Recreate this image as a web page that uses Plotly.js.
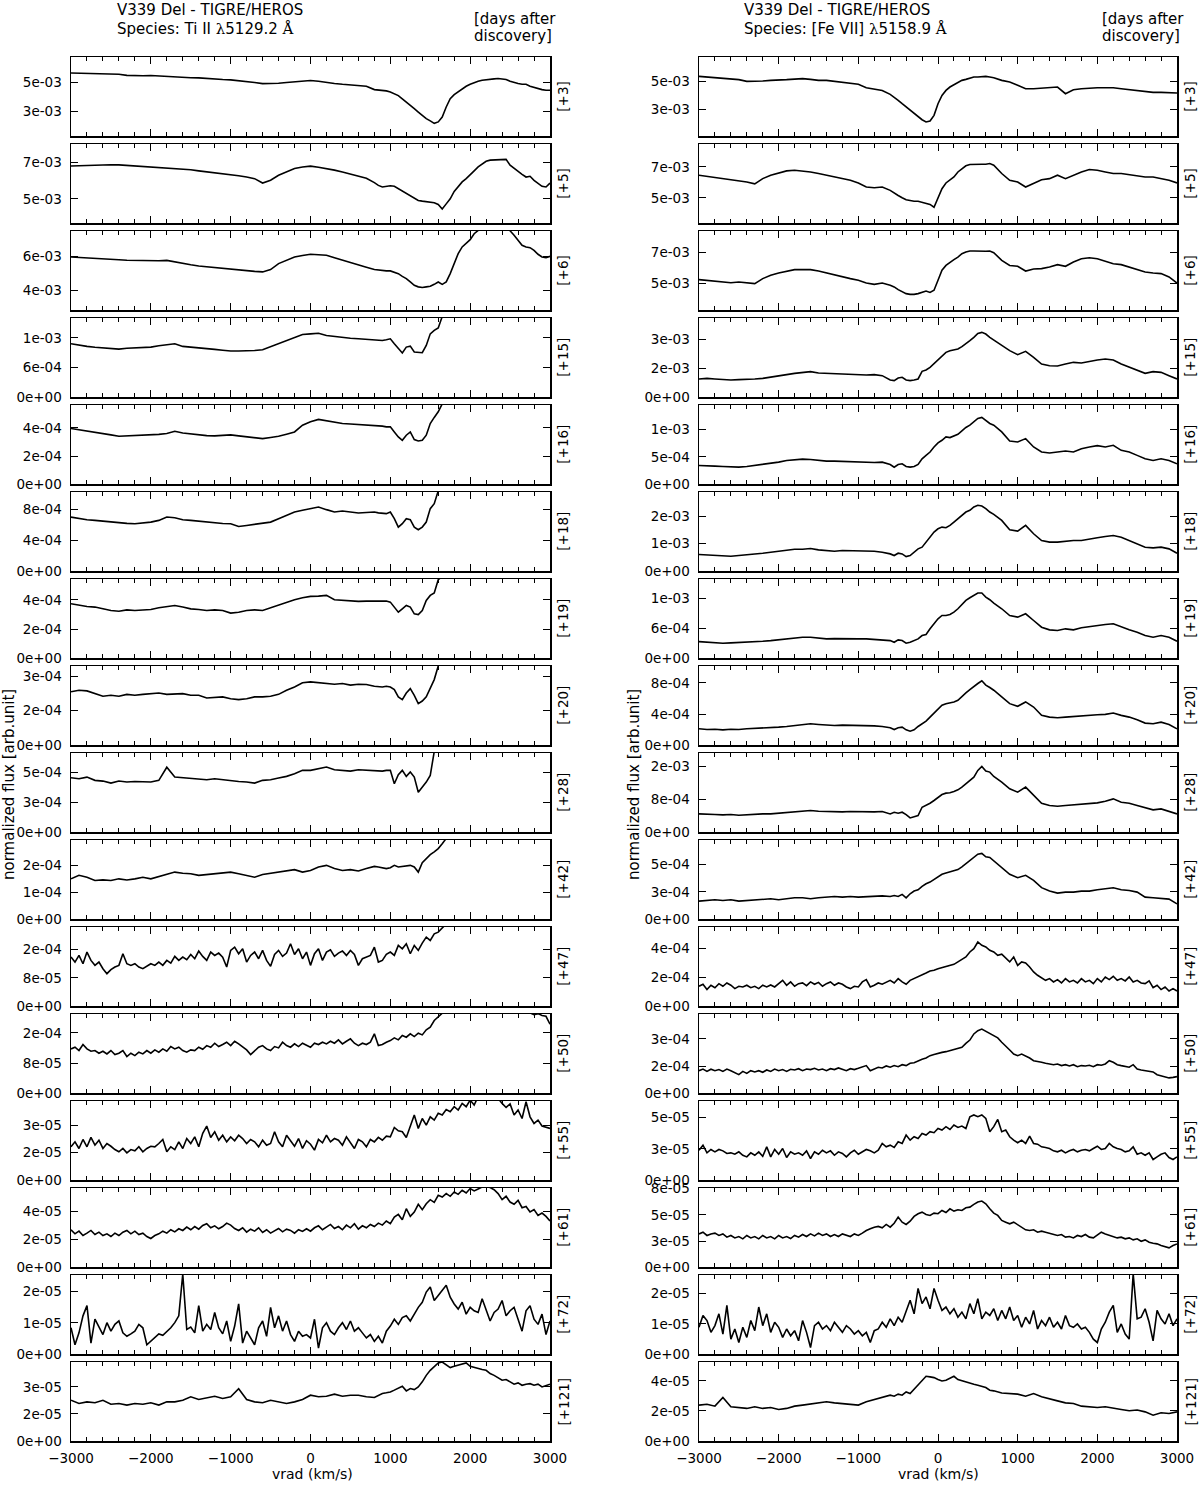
<!DOCTYPE html>
<html>
<head>
<meta charset="utf-8">
<script src="https://cdn.plot.ly/plotly-3.0.1.min.js"></script>
<style>
  body { margin: 0; background: #fff; }
  #chart { width: 1200px; height: 1485px; }
</style>
</head>
<body>
<div id="chart"></div>
<script>
// --- velocity grids (km/s) ---
const vradTi = [-3000,-2900,-2800,-2700,-2600,-2500,-2400,-2300,-2200,-2100,
  -2000,-1900,-1800,-1700,-1600,-1500,-1400,-1300,-1200,-1100,
  -1000,-900,-800,-700,-600,-500,-400,-300,-200,-100,
  0,100,200,300,400,500,600,700,800,
  850,900,950,1000,1050,1100,1150,1200,1250,1300,
  1350,1400,1450,1500,1550,1600,1650,1700,1750,1800,
  1850,1900,1950,2000,2050,2100,2150,2200,2250,2300,
  2350,2400,2450,2500,2550,2600,2650,2700,2750,2800,
  2850,2900,2950,3000];

const vradFe = [-3000,-2900,-2800,-2700,-2600,-2500,-2400,-2300,-2200,-2100,
  -2000,-1900,-1800,-1700,-1600,-1500,-1400,-1300,-1200,-1100,
  -1000,-900,-800,-700,-600,
  -550,-500,-450,-400,-350,-300,-250,-200,-150,-100,
  -50,0,50,100,150,200,250,300,350,400,
  450,500,550,600,650,700,
  800,900,1000,1100,1200,1300,1400,1500,1600,1700,
  1800,1900,2000,2100,2200,2300,2400,2500,2600,2700,
  2800,2900,3000];

const vradNoisy = [-3000,-2950,-2900,-2850,-2800,-2750,-2700,-2650,-2600,-2550,
  -2500,-2450,-2400,-2350,-2300,-2250,-2200,-2150,-2100,-2050,
  -2000,-1950,-1900,-1850,-1800,-1750,-1700,-1650,-1600,-1550,
  -1500,-1450,-1400,-1350,-1300,-1250,-1200,-1150,-1100,-1050,
  -1000,-950,-900,-850,-800,-750,-700,-650,-600,-550,
  -500,-450,-400,-350,-300,-250,-200,-150,-100,-50,
  0,50,100,150,200,250,300,350,400,450,
  500,550,600,650,700,750,800,850,900,950,
  1000,1050,1100,1150,1200,1250,1300,1350,1400,1450,
  1500,1550,1600,1650,1700,1750,1800,1850,1900,1950,
  2000,2050,2100,2150,2200,2250,2300,2350,2400,2450,
  2500,2550,2600,2650,2700,2750,2800,2850,2900,2950,
  3000];

const daysAfter = ['+3','+5','+6','+15','+16','+18','+19','+20','+28','+42','+47','+50','+55','+61','+72','+121'];

// --- Ti II 5129.2 normalized flux (unit in comment) ---
const tiD3 = [5.67,5.65,5.63,5.62,5.60,5.59,5.58,5.50,5.47,5.48,
  5.49,5.45,5.42,5.38,5.35,5.34,5.33,5.28,5.23,5.21,
  5.19,5.14,5.09,5.00,4.93,4.93,4.95,5.01,5.07,5.11,
  5.14,5.09,5.00,4.94,4.88,4.85,4.81,4.74,4.51,
  4.49,4.47,4.42,4.35,4.23,4.09,3.86,3.65,3.42,3.19,
  2.95,2.72,2.49,2.33,2.16,2.26,2.60,3.30,3.88,4.16,
  4.35,4.58,4.74,4.88,5.00,5.09,5.16,5.21,5.23,5.26,
  5.28,5.26,5.21,5.09,5.00,4.93,4.88,4.88,4.74,4.65,
  4.56,4.51,4.47,4.47]; // 1e-3
const tiD5 = [6.81,6.83,6.85,6.87,6.89,6.88,6.87,6.84,6.81,6.79,
  6.76,6.73,6.70,6.68,6.65,6.60,6.54,6.49,6.44,6.39,
  6.33,6.27,6.20,6.11,5.87,6.02,6.30,6.50,6.67,6.75,
  6.80,6.74,6.67,6.58,6.48,6.37,6.26,6.13,5.89,
  5.74,5.65,5.69,5.72,5.69,5.56,5.43,5.28,5.13,5.00,
  4.91,4.87,4.83,4.81,4.78,4.69,4.44,4.72,5.00,5.41,
  5.69,5.93,6.11,6.30,6.54,6.76,6.94,7.07,7.13,7.13,
  7.15,7.15,7.17,6.85,6.67,6.48,6.35,6.20,6.24,6.02,
  5.83,5.69,5.65,5.87]; // 1e-3
const tiD6 = [5.96,5.94,5.92,5.89,5.86,5.83,5.80,5.77,5.76,5.75,
  5.73,5.74,5.76,5.66,5.57,5.50,5.43,5.38,5.33,5.28,
  5.22,5.18,5.14,5.11,5.08,5.22,5.57,5.77,5.96,6.05,
  6.12,6.09,6.06,5.91,5.76,5.61,5.47,5.35,5.22,
  5.18,5.14,5.14,5.14,5.08,4.98,4.82,4.69,4.49,4.29,
  4.20,4.16,4.20,4.24,4.35,4.49,4.35,4.49,4.98,5.57,
  6.16,6.55,6.78,6.98,7.33,7.53,7.8,8.0,8.1,8.2,
  8.2,8.1,7.9,7.5,7.24,6.94,6.65,6.55,6.51,6.35,
  6.12,5.96,5.92,6.00]; // 1e-3
const tiD15 = [10.8,10.5,10.27,10.1,9.93,9.85,9.73,9.9,10.0,10.05,
  10.13,10.4,10.67,10.8,10.27,10.15,10.0,9.85,9.67,9.5,
  9.33,9.33,9.33,9.45,9.6,10.2,10.8,11.4,12.0,12.67,
  12.8,12.93,12.47,12.25,12.0,11.9,11.8,11.7,11.6,
  11.6,11.47,11.6,11.8,10.8,9.8,8.93,10.13,10.33,9.13,
  9.0,9.0,10.47,12.8,13.5,14.0,16.3]; // 1e-4
const tiD16 = [3.95,3.87,3.79,3.70,3.60,3.50,3.40,3.42,3.43,3.46,
  3.48,3.54,3.60,3.76,3.64,3.56,3.48,3.45,3.43,3.47,
  3.50,3.43,3.36,3.30,3.24,3.32,3.40,3.55,3.71,4.19,
  4.43,4.60,4.50,4.40,4.31,4.27,4.24,4.19,4.14,
  4.12,4.12,4.07,4.07,3.71,3.36,3.12,3.48,3.71,3.17,
  3.07,3.12,3.48,4.31,4.74,5.14,5.7]; // 1e-4
const tiD18 = [7.01,6.80,6.67,6.58,6.49,6.36,6.23,6.20,6.15,6.25,
  6.36,6.58,7.01,6.93,6.67,6.58,6.49,6.36,6.23,6.18,
  6.15,5.80,5.93,6.05,6.15,6.36,6.80,7.20,7.66,7.90,
  8.10,8.31,7.97,7.66,7.79,7.65,7.53,7.60,7.66,
  7.55,7.50,7.45,7.66,6.80,5.71,6.15,6.80,6.67,5.71,
  5.37,5.71,6.36,8.10,8.74,10.4]; // 1e-4
const tiD19 = [3.73,3.61,3.54,3.50,3.38,3.27,3.22,3.31,3.27,3.31,
  3.34,3.45,3.54,3.61,3.50,3.38,3.34,3.27,3.31,3.27,
  3.09,3.15,3.27,3.31,3.27,3.45,3.68,3.82,4.00,4.14,
  4.23,4.25,4.30,4.00,3.95,3.91,3.89,3.91,3.91,
  3.95,3.95,3.91,3.84,3.50,3.15,3.38,3.61,3.50,3.04,
  2.99,3.27,3.95,4.30,4.46,5.37,5.6]; // 1e-4
const tiD20 = [2.32,2.39,2.36,2.24,2.13,2.17,2.13,2.21,2.17,2.21,
  2.24,2.27,2.21,2.21,2.24,2.17,2.17,2.05,2.07,2.10,
  2.02,1.98,2.02,2.10,2.10,2.13,2.21,2.39,2.53,2.71,
  2.75,2.71,2.68,2.65,2.68,2.61,2.65,2.64,2.56,
  2.53,2.53,2.56,2.53,2.42,2.10,1.98,2.27,2.46,2.17,
  1.81,1.92,2.10,2.46,2.85,3.44,3.7]; // 1e-4
const tiD28 = [4.53,4.44,4.58,4.31,4.25,4.08,4.25,4.17,4.22,4.22,
  4.17,4.31,5.4,4.58,4.53,4.50,4.44,4.36,4.44,4.36,
  4.25,4.22,4.17,4.08,4.31,4.36,4.50,4.64,4.86,5.14,
  5.14,5.28,5.42,5.19,5.14,5.08,5.19,5.14,5.08,
  5.08,5.08,5.14,5.14,4.03,4.78,5.14,4.64,5.0,4.58,
  3.33,3.75,4.17,4.72,6.7]; // 1e-4
const tiD42 = [1.50,1.63,1.56,1.44,1.46,1.44,1.50,1.46,1.50,1.56,
  1.50,1.59,1.66,1.75,1.71,1.69,1.63,1.66,1.69,1.71,
  1.75,1.69,1.63,1.56,1.66,1.71,1.75,1.81,1.84,1.75,
  1.81,1.94,2.00,1.88,1.81,1.84,1.79,1.88,1.96,
  1.94,1.91,1.88,1.91,2.00,1.94,1.96,1.98,2.00,1.94,
  1.75,2.10,2.25,2.40,2.50,2.62,2.80,3.0]; // 1e-4
const tiD47 = [13.84,12.44,14.31,11.97,15.25,12.91,11.51,12.44,10.57,9.17,
  10.29,11.04,11.51,14.78,11.97,11.51,11.97,11.04,10.57,11.23,
  11.97,11.51,12.44,11.51,12.91,12.16,14.03,12.91,13.84,13.10,
  14.59,13.38,15.53,14.03,12.91,15.25,14.31,14.97,13.84,11.04,
  15.72,16.65,14.78,16.18,12.44,14.31,15.25,13.38,15.72,12.91,
  11.23,14.59,15.72,14.03,14.97,17.59,14.59,16.18,13.38,15.25,
  11.51,14.78,16.18,12.91,15.25,15.90,14.03,14.97,15.53,14.31,
  15.72,14.59,11.51,13.38,13.84,14.31,16.65,12.44,12.91,14.59,
  15.25,14.31,17.12,16.18,17.59,14.78,17.12,15.72,17.77,19.46,
  18.52,20.39,20.86,22.26,23.2]; // 1e-5
const tiD50 = [11.76,12.20,11.32,12.91,11.76,11.14,11.32,10.61,11.14,10.43,
  11.32,10.26,10.61,11.32,9.73,10.61,9.99,10.88,10.43,11.32,
  10.61,11.49,10.88,11.76,11.14,12.38,11.76,12.20,11.32,10.88,
  11.49,11.32,12.20,11.67,12.64,12.20,13.26,12.38,12.91,13.53,
  12.64,13.79,13.09,12.20,11.49,10.26,11.32,12.20,12.64,11.76,
  11.32,12.38,12.02,13.53,12.64,12.20,13.09,12.38,13.26,12.64,
  12.20,13.26,12.91,13.53,13.09,13.79,13.26,14.15,13.09,13.79,
  14.41,13.26,12.64,13.26,12.91,13.53,15.74,12.64,12.91,13.53,
  13.97,14.68,14.15,15.30,14.85,15.74,15.03,15.92,15.47,16.80,
  17.51,19.27,20.34,21.22,22.0,22.5,23.0,23.5,24.0,24.0,
  24.5,24.5,25.0,25.0,25.0,25.0,24.5,24.5,24.0,24.0,
  23.5,23.0,22.5,22.0,21.5,21.3,20.8,21.1,20.6,20.4,
  18.3]; // 1e-5
const tiD55 = [1.82,2.09,1.73,2.22,1.82,2.33,1.91,2.18,1.73,2.00,
  1.85,1.67,1.55,1.73,1.49,1.67,1.60,1.82,1.55,1.73,
  1.85,1.82,2.00,2.22,1.55,1.82,1.67,2.09,1.73,2.27,
  2.00,2.36,1.82,2.55,2.95,2.33,2.64,2.18,2.45,2.09,
  2.36,2.15,2.45,2.27,2.00,2.22,2.09,1.82,2.18,1.91,
  2.00,2.64,2.09,1.82,2.45,2.18,1.85,2.27,1.73,2.15,
  1.96,1.64,2.22,2.04,2.45,2.09,2.27,2.18,1.91,2.36,
  2.04,1.73,2.22,2.09,1.82,2.22,2.09,2.33,2.18,2.40,
  2.36,2.87,2.69,2.64,2.33,2.91,3.55,2.82,3.36,3.00,
  3.45,3.27,3.64,3.55,3.85,3.73,4.00,3.82,4.18,4.00,
  4.36,4.09,4.55,4.73,4.64,4.55,4.36,4.45,4.18,3.96,
  4.15,3.55,3.82,3.36,4.27,3.45,3.09,3.27,2.95,2.87,
  2.82]; // 1e-5
const tiD61 = [2.67,2.38,2.57,2.26,2.43,2.62,2.33,2.50,2.26,2.38,
  2.19,2.43,2.26,2.50,2.62,2.38,2.57,2.33,2.43,2.19,
  2.05,2.26,2.38,2.57,2.43,2.67,2.52,2.74,2.62,2.86,
  2.67,2.90,2.71,2.98,3.10,2.81,2.95,2.74,2.90,3.14,
  3.00,2.76,2.62,2.81,2.50,2.71,2.57,2.81,2.48,2.67,
  2.43,2.62,2.76,2.52,2.71,2.62,2.43,2.67,2.55,2.74,
  2.57,2.81,2.95,2.67,2.86,3.05,2.76,2.90,2.67,3.00,
  2.81,3.10,2.71,2.95,2.81,3.05,2.90,3.14,3.00,3.29,
  3.10,3.57,3.76,3.38,4.17,3.62,3.93,4.48,4.10,4.52,
  4.81,4.62,5.12,5.00,5.24,5.05,5.36,5.19,5.48,5.29,
  5.60,5.43,5.57,5.71,5.76,5.67,5.52,5.24,4.81,5.05,
  4.64,4.48,4.76,4.24,4.33,3.93,4.10,3.69,3.86,3.62,
  3.29]; // 1e-5
const tiD72 = [8.43,3.03,6.81,12.22,15.46,3.57,11.14,8.43,6.27,10.05,
  7.35,9.51,10.59,6.81,5.73,6.49,7.35,9.51,8.43,3.03,
  4.11,5.19,6.49,6.05,7.14,8.43,10.05,12.22,25.5,7.89,
  8.65,6.81,15.46,7.35,9.51,7.89,13.30,8.43,6.49,10.59,
  4.11,8.97,16.0,3.57,7.35,5.19,3.03,8.43,10.59,5.73,
  14.92,8.43,12.22,7.35,10.59,6.27,4.11,7.35,5.73,6.27,
  5.19,11.14,1.95,8.43,10.05,7.35,6.27,8.43,10.05,7.89,
  10.59,7.35,8.43,6.81,5.19,6.27,4.11,5.73,3.57,7.35,
  8.97,11.14,9.51,11.68,12.22,10.59,12.76,14.92,16.54,19.78,
  21.41,17.08,18.70,20.32,21.95,18.16,16.0,14.38,16.54,12.76,
  14.92,13.84,13.30,17.62,14.38,10.59,13.30,14.38,17.08,12.22,
  13.84,14.92,11.14,7.35,13.84,15.46,11.14,9.51,12.76,6.27,
  10.59]; // 1e-6
const tiD121 = [2.26,2.08,2.17,2.12,2.26,2.04,2.08,1.99,2.08,2.04,
  2.12,1.99,2.17,2.17,2.26,2.45,2.30,2.41,2.48,2.36,
  2.45,2.90,2.30,2.17,2.12,2.26,2.17,2.08,2.17,2.30,
  2.54,2.45,2.48,2.60,2.48,2.54,2.54,2.45,2.41,
  2.54,2.63,2.67,2.72,2.82,2.91,3.04,2.78,2.91,2.85,
  3.00,3.28,3.64,3.92,4.14,4.33,4.38,4.20,4.07,4.14,
  4.20,4.25,4.33,4.14,4.07,4.01,3.96,3.92,3.74,3.64,
  3.52,3.37,3.41,3.28,3.15,3.22,3.09,3.15,3.18,3.09,
  3.15,3.00,3.09,3.15]; // 1e-5

// --- [Fe VII] 5158.9 normalized flux (unit in comment) ---
const feD3 = [5.35,5.31,5.26,5.24,5.19,5.12,5.00,5.00,5.02,5.07,
  5.07,5.12,5.16,5.19,5.14,5.07,5.07,5.00,4.95,4.91,
  4.79,4.55,4.48,4.36,4.08,
  3.89,3.66,3.42,3.19,2.95,2.72,2.48,2.29,2.13,2.20,
  2.60,3.42,4.01,4.36,4.60,4.76,4.95,5.07,5.14,5.24,
  5.31,5.31,5.35,5.35,5.31,5.26,
  5.07,4.95,4.72,4.48,4.48,4.53,4.53,4.60,4.13,4.41,
  4.48,4.53,4.55,4.55,4.55,4.48,4.41,4.32,4.27,4.22,
  4.22,4.18,4.18]; // 1e-3
const feD5 = [6.46,6.39,6.30,6.24,6.17,6.13,6.02,5.90,6.24,6.46,
  6.61,6.74,6.78,6.74,6.67,6.57,6.46,6.35,6.24,6.13,
  5.96,5.70,5.65,5.70,5.48,
  5.30,5.15,5.00,4.87,4.83,4.78,4.78,4.72,4.65,4.57,
  4.39,5.04,5.59,5.96,6.13,6.35,6.67,6.89,7.07,7.15,
  7.17,7.15,7.17,7.17,7.22,7.11,
  6.57,6.13,6.02,5.70,5.96,6.17,6.24,6.46,6.24,6.46,
  6.67,6.83,6.78,6.67,6.57,6.57,6.50,6.46,6.35,6.35,
  6.24,6.13,5.96]; // 1e-3
const feD6 = [5.22,5.18,5.11,5.07,5.02,5.07,5.02,4.96,5.29,5.51,
  5.66,5.79,5.88,5.88,5.88,5.79,5.66,5.51,5.40,5.29,
  5.18,5.00,4.91,5.00,4.85,
  4.74,4.56,4.41,4.30,4.25,4.25,4.30,4.38,4.47,4.38,
  4.52,5.18,5.84,6.16,6.38,6.54,6.71,6.93,7.04,7.11,
  7.11,7.09,7.07,7.09,7.11,7.00,
  6.49,6.16,6.10,5.79,5.92,5.95,6.05,6.21,6.10,6.38,
  6.60,6.67,6.60,6.45,6.27,6.21,6.05,5.84,5.73,5.66,
  5.62,5.40,5.00]; // 1e-3
const feD15 = [0.954,0.988,0.954,0.919,0.902,0.919,0.919,0.954,0.988,1.040,
  1.110,1.179,1.248,1.300,1.335,1.266,1.248,1.214,1.214,1.196,
  1.179,1.162,1.179,1.127,0.902,
  0.867,1.006,1.040,0.902,0.867,0.902,0.954,1.353,1.422,1.561,
  1.769,1.942,2.168,2.341,2.428,2.480,2.514,2.636,2.774,2.948,
  3.121,3.329,3.381,3.295,3.121,2.982,
  2.722,2.428,2.220,2.393,2.081,1.734,1.647,1.630,1.734,1.821,
  1.786,1.873,1.942,1.994,1.942,1.734,1.561,1.422,1.248,1.335,
  1.300,1.127,0.954]; // 1e-3
const feD16 = [3.44,3.44,3.31,3.25,3.13,3.13,3.25,3.44,3.62,3.87,
  4.05,4.36,4.48,4.60,4.54,4.36,4.23,4.23,4.17,4.05,
  4.05,4.05,3.99,4.05,3.62,
  3.13,3.62,3.74,3.25,3.13,3.25,3.62,4.66,5.28,5.89,
  6.81,7.55,8.04,8.65,8.53,8.77,9.14,9.75,10.37,10.80,
  11.41,12.02,12.21,11.72,11.10,10.80,
  9.57,7.91,7.73,8.34,6.81,5.89,5.71,5.89,6.07,5.89,
  6.50,6.81,7.06,6.81,7.12,6.20,5.89,5.28,4.66,4.36,
  4.66,4.36,3.74]; // 1e-4
const feD18 = [0.606,0.594,0.570,0.558,0.545,0.570,0.594,0.606,0.655,0.691,
  0.727,0.776,0.800,0.800,0.824,0.776,0.752,0.727,0.752,0.752,
  0.727,0.727,0.727,0.691,0.630,
  0.570,0.655,0.630,0.533,0.570,0.691,0.812,0.873,1.055,1.236,
  1.418,1.539,1.600,1.576,1.661,1.782,1.903,2.024,2.145,2.206,
  2.327,2.388,2.364,2.267,2.145,2.061,
  1.842,1.503,1.455,1.661,1.358,1.115,1.055,1.055,1.091,1.115,
  1.115,1.176,1.212,1.261,1.297,1.236,1.115,0.994,0.873,0.848,
  0.873,0.812,0.655]; // 1e-3
const feD19 = [3.33,3.20,3.07,3.00,3.07,3.13,3.20,3.27,3.40,3.53,
  3.73,3.87,4.07,4.20,4.20,4.07,3.87,3.93,3.87,3.87,
  3.87,3.87,3.80,3.73,3.53,
  3.20,3.67,3.53,3.00,3.20,3.53,3.87,4.53,4.73,5.87,
  6.87,7.87,8.53,8.53,8.73,9.20,9.87,10.73,11.53,12.07,
  12.53,13.0,13.0,12.2,11.67,11.0,
  9.87,8.53,8.2,8.87,7.53,6.2,5.67,5.53,5.87,5.67,
  6.07,6.33,6.53,6.73,6.87,6.2,5.67,5.2,4.53,4.2,
  4.53,4.2,3.40]; // 1e-4
const feD20 = [2.11,2.02,2.06,1.98,2.06,2.02,2.11,2.15,2.19,2.24,
  2.32,2.41,2.54,2.67,2.75,2.67,2.58,2.54,2.58,2.58,
  2.54,2.54,2.49,2.41,2.24,
  2.02,2.24,2.32,1.98,1.81,1.98,2.41,2.75,3.10,3.61,
  4.13,4.69,5.12,5.33,5.42,5.55,5.76,6.28,6.71,7.14,
  7.57,7.91,8.26,7.70,7.40,7.05,
  6.19,5.33,4.99,5.55,4.90,3.83,3.61,3.53,3.61,3.70,
  3.78,3.83,3.91,3.96,4.13,3.83,3.61,3.27,2.84,2.75,
  2.96,2.67,2.11]; // 1e-4
const feD28 = [4.49,4.33,4.33,4.24,4.33,4.16,4.33,4.41,4.49,4.49,
  4.65,4.82,4.98,5.14,5.31,5.14,5.06,4.98,4.98,5.06,
  4.98,4.98,4.98,5.06,4.49,
  4.90,4.65,4.90,4.33,3.51,3.84,4.08,6.12,6.53,7.10,
  7.76,8.57,9.22,9.55,9.63,9.96,10.37,11.02,11.84,12.65,
  13.47,15.10,16.08,14.94,14.69,13.63,
  12.24,10.61,9.80,11.02,8.98,7.10,6.53,6.37,6.53,6.69,
  6.78,6.94,7.18,7.59,8.16,7.34,7.10,6.53,5.96,5.47,
  5.71,5.14,4.49]; // 1e-4
const feD42 = [1.65,1.71,1.77,1.71,1.77,1.65,1.71,1.77,1.83,1.86,
  1.77,1.86,1.95,1.95,1.86,1.95,2.01,2.07,2.01,2.07,
  2.01,2.07,2.10,2.13,2.07,
  2.16,2.07,2.26,1.95,2.32,2.56,2.68,2.99,3.23,3.38,
  3.60,3.84,4.09,4.21,4.30,4.45,4.51,4.76,5.06,5.37,
  5.67,5.91,5.98,5.67,5.61,5.30,
  4.76,4.09,3.78,3.99,3.54,2.87,2.56,2.38,2.47,2.47,
  2.56,2.56,2.68,2.77,2.87,2.68,2.62,2.47,2.01,1.95,
  1.86,1.83,1.40]; // 1e-4
const feD47 = [1.39,1.53,1.16,1.46,1.29,1.57,1.39,1.62,1.46,1.23,
  1.39,1.34,1.46,1.29,1.39,1.23,1.46,1.34,1.48,1.34,
  1.57,1.80,1.46,1.69,1.39,1.57,1.62,1.43,1.69,1.53,
  1.66,1.39,1.57,1.69,1.46,1.62,1.53,1.34,1.23,1.39,
  1.34,1.69,1.85,1.34,1.46,1.62,1.53,1.69,1.80,1.62,
  1.92,1.69,1.53,1.80,1.92,2.08,2.15,2.31,2.45,2.50,
  2.61,2.68,2.73,2.84,2.91,3.08,3.24,3.42,3.77,4.00,
  4.46,4.23,4.12,3.88,3.77,3.54,3.61,3.31,3.08,3.42,
  2.84,3.08,3.01,2.73,2.38,2.15,1.99,1.80,1.92,1.69,
  1.85,1.62,1.92,1.69,1.80,1.62,1.92,1.69,1.80,1.57,
  1.92,1.69,2.03,1.85,2.08,1.80,1.92,1.76,2.03,1.69,
  1.80,1.62,1.57,1.76,1.29,1.46,1.16,1.34,1.06,1.23,
  1.06]; // 1e-4
const feD50 = [1.25,1.34,1.21,1.33,1.25,1.31,1.21,1.34,1.25,1.16,
  1.03,1.21,1.10,1.25,1.18,1.25,1.16,1.29,1.21,1.34,
  1.25,1.31,1.21,1.33,1.29,1.36,1.25,1.34,1.31,1.38,
  1.29,1.34,1.25,1.36,1.31,1.40,1.33,1.25,1.36,1.31,
  1.38,1.44,1.53,1.25,1.33,1.44,1.40,1.51,1.44,1.53,
  1.47,1.58,1.53,1.66,1.69,1.80,1.88,1.95,2.08,2.14,
  2.21,2.26,2.30,2.36,2.39,2.45,2.54,2.76,2.94,3.28,
  3.46,3.55,3.42,3.28,3.18,3.06,2.82,2.63,2.39,2.17,
  2.08,2.17,2.08,1.95,1.80,1.77,1.71,1.66,1.62,1.58,
  1.62,1.53,1.58,1.51,1.58,1.47,1.53,1.51,1.55,1.47,
  1.58,1.55,1.62,1.80,1.71,1.58,1.53,1.47,1.44,1.58,
  1.34,1.29,1.25,1.21,1.18,1.03,0.98,0.92,0.85,0.88,
  0.92]; // 1e-4
const feD55 = [2.39,2.79,2.18,2.45,2.26,2.45,2.34,2.13,2.18,2.07,
  2.26,1.99,1.86,2.18,1.99,2.26,1.91,2.66,1.86,2.45,
  2.07,2.53,1.81,2.26,2.07,2.18,1.99,2.34,1.73,2.26,
  2.07,2.39,2.18,2.34,1.99,2.26,2.13,1.86,2.18,2.39,
  2.07,2.26,2.45,2.34,2.18,2.39,2.93,2.66,2.79,2.61,
  3.06,2.93,3.59,3.19,3.46,3.32,3.72,3.59,3.86,3.78,
  4.12,3.99,4.26,4.04,4.39,4.20,4.31,4.12,5.05,5.19,
  5.05,5.19,4.92,3.86,4.26,4.84,3.86,3.99,3.46,3.19,
  2.98,3.19,2.93,3.51,2.93,2.87,2.66,2.61,2.53,2.34,
  2.26,2.39,2.18,2.34,2.45,2.26,2.39,2.45,2.34,2.53,
  2.71,2.45,2.53,2.93,2.66,2.53,2.45,2.26,2.34,2.66,
  2.07,2.18,1.99,2.18,1.65,1.86,2.07,2.18,1.81,1.65,
  1.86]; // 1e-5
const feD61 = [3.18,3.34,3.03,3.18,3.25,3.03,3.18,2.87,3.03,2.80,
  2.93,2.71,3.03,2.80,2.93,2.71,3.03,2.80,2.93,2.71,
  3.03,2.80,2.93,2.74,3.03,2.87,3.12,2.93,3.18,2.99,
  3.25,3.03,3.18,2.93,3.12,2.93,3.18,3.03,2.93,3.18,
  3.03,3.25,3.50,3.66,3.82,3.89,3.76,4.08,3.82,4.20,
  4.78,4.30,4.08,4.39,4.84,5.10,5.25,5.03,4.94,5.16,
  5.10,5.41,5.22,5.57,5.35,5.48,5.41,5.67,5.73,5.99,
  6.21,6.31,6.05,5.57,5.16,4.94,4.46,4.30,4.14,4.30,
  4.08,3.82,3.57,3.50,3.57,3.34,3.44,3.34,3.25,3.18,
  3.03,3.12,2.87,2.93,2.80,3.03,2.93,3.12,2.87,2.80,
  3.03,3.34,3.18,3.03,2.93,2.80,2.87,2.71,2.80,2.61,
  2.71,2.48,2.61,2.39,2.29,2.23,2.07,1.97,1.85,2.07,
  2.23]; // 1e-5
const feD72 = [8.89,12.78,11.11,7.22,9.44,13.33,6.67,16.11,5.00,8.33,
  3.89,8.89,5.56,11.11,7.78,15.56,9.44,13.33,7.22,10.56,
  8.89,5.56,8.33,6.11,7.78,4.44,11.11,7.22,2.22,9.44,
  10.56,8.33,9.44,7.78,10.56,8.89,7.22,9.44,8.33,6.67,
  7.78,6.11,7.22,3.89,7.78,8.33,10.56,8.89,11.67,9.44,
  12.22,10.56,14.44,17.78,13.33,21.67,16.67,18.89,15.0,21.67,
  17.78,14.44,15.56,13.33,15.0,12.22,13.89,11.67,16.67,13.33,
  18.33,11.67,13.89,12.78,15.0,11.11,14.44,11.67,15.56,11.11,
  12.78,8.89,12.22,10.0,14.44,8.33,11.11,9.44,12.22,8.89,
  10.56,8.33,12.78,9.44,8.89,10.0,8.33,8.89,7.22,5.00,
  3.89,8.33,10.56,13.89,16.11,7.22,10.0,6.67,5.00,26.5,
  11.67,12.22,15.0,10.56,4.44,14.44,11.67,10.0,13.33,9.44,
  11.67]; // 1e-6
const feD121 = [2.39,2.45,2.32,2.90,2.28,2.23,2.17,2.28,2.17,2.23,
  2.10,2.17,2.32,2.39,2.45,2.50,2.61,2.54,2.50,2.45,
  2.39,2.61,2.76,2.90,3.05,
  2.98,3.12,3.05,3.27,3.16,3.43,3.71,4.04,4.31,4.27,
  4.22,4.09,4.00,4.04,4.15,4.31,4.09,4.00,3.93,3.87,
  3.78,3.71,3.65,3.56,3.38,3.34,
  3.20,3.16,3.12,2.98,3.16,2.94,2.83,2.67,2.54,2.50,
  2.32,2.28,2.23,2.28,2.17,2.10,2.01,2.06,1.94,1.72,
  1.88,1.83,1.94]; // 1e-5

// panel setup: flux array, its unit, velocity grid, y range and y ticks
const tiPanels = [
  { flux: tiD3,   unit: 1e-3, grid: vradTi,    yr: [1.26e-3, 6.78e-3], tv: [3e-3, 5e-3],           tt: ['3e-03', '5e-03'] },
  { flux: tiD5,   unit: 1e-3, grid: vradTi,    yr: [3.65e-3, 8.02e-3], tv: [5e-3, 7e-3],           tt: ['5e-03', '7e-03'] },
  { flux: tiD6,   unit: 1e-3, grid: vradTi,    yr: [2.82e-3, 7.49e-3], tv: [4e-3, 6e-3],           tt: ['4e-03', '6e-03'] },
  { flux: tiD15,  unit: 1e-4, grid: vradTi,    yr: [0, 1.6e-3],   tv: [0, 6e-4, 1.2e-3],     tt: ['0e+00', '6e-04', '1e-03'] },
  { flux: tiD16,  unit: 1e-4, grid: vradTi,    yr: [0, 5.62e-4],  tv: [0, 2e-4, 4e-4],       tt: ['0e+00', '2e-04', '4e-04'] },
  { flux: tiD18,  unit: 1e-4, grid: vradTi,    yr: [0, 1.025e-3], tv: [0, 4e-4, 8e-4],       tt: ['0e+00', '4e-04', '8e-04'] },
  { flux: tiD19,  unit: 1e-4, grid: vradTi,    yr: [0, 5.42e-4],  tv: [0, 2e-4, 4e-4],       tt: ['0e+00', '2e-04', '4e-04'] },
  { flux: tiD20,  unit: 1e-4, grid: vradTi,    yr: [0, 3.44e-4],  tv: [0, 1.5e-4, 3e-4],     tt: ['0e+00', '2e-04', '3e-04'] },
  { flux: tiD28,  unit: 1e-4, grid: vradTi,    yr: [0, 6.58e-4],  tv: [0, 2.5e-4, 5e-4],     tt: ['0e+00', '3e-04', '5e-04'] },
  { flux: tiD42,  unit: 1e-4, grid: vradTi,    yr: [0, 2.94e-4],  tv: [0, 1e-4, 2e-4],       tt: ['0e+00', '1e-04', '2e-04'] },
  { flux: tiD47,  unit: 1e-5, grid: vradNoisy, yr: [0, 2.23e-4],  tv: [0, 8e-5, 1.6e-4],     tt: ['0e+00', '8e-05', '2e-04'] },
  { flux: tiD50,  unit: 1e-5, grid: vradNoisy, yr: [0, 2.10e-4],  tv: [0, 8e-5, 1.6e-4],     tt: ['0e+00', '8e-05', '2e-04'] },
  { flux: tiD55,  unit: 1e-5, grid: vradNoisy, yr: [0, 4.31e-5],  tv: [0, 1.5e-5, 3e-5],     tt: ['0e+00', '2e-05', '3e-05'] },
  { flux: tiD61,  unit: 1e-5, grid: vradNoisy, yr: [0, 5.64e-5],  tv: [0, 2e-5, 4e-5],       tt: ['0e+00', '2e-05', '4e-05'] },
  { flux: tiD72,  unit: 1e-6, grid: vradNoisy, yr: [0, 2.52e-5],  tv: [0, 1e-5, 2e-5],       tt: ['0e+00', '1e-05', '2e-05'] },
  { flux: tiD121, unit: 1e-5, grid: vradTi,    yr: [0, 4.38e-5],  tv: [0, 1.5e-5, 3e-5],     tt: ['0e+00', '2e-05', '3e-05'] }
];

const fePanels = [
  { flux: feD3,   unit: 1e-3, grid: vradFe,    yr: [1.12e-3, 6.72e-3], tv: [3e-3, 5e-3],           tt: ['3e-03', '5e-03'] },
  { flux: feD5,   unit: 1e-3, grid: vradFe,    yr: [3.35e-3, 8.48e-3], tv: [5e-3, 7e-3],           tt: ['5e-03', '7e-03'] },
  { flux: feD6,   unit: 1e-3, grid: vradFe,    yr: [3.20e-3, 8.43e-3], tv: [5e-3, 7e-3],           tt: ['5e-03', '7e-03'] },
  { flux: feD15,  unit: 1e-3, grid: vradFe,    yr: [0, 4.13e-3],  tv: [0, 1.5e-3, 3e-3],     tt: ['0e+00', '2e-03', '3e-03'] },
  { flux: feD16,  unit: 1e-4, grid: vradFe,    yr: [0, 1.448e-3], tv: [0, 5e-4, 1e-3],       tt: ['0e+00', '5e-04', '1e-03'] },
  { flux: feD18,  unit: 1e-3, grid: vradFe,    yr: [0, 2.87e-3],  tv: [0, 1e-3, 2e-3],       tt: ['0e+00', '1e-03', '2e-03'] },
  { flux: feD19,  unit: 1e-4, grid: vradFe,    yr: [0, 1.58e-3],  tv: [0, 6e-4, 1.2e-3],     tt: ['0e+00', '6e-04', '1e-03'] },
  { flux: feD20,  unit: 1e-4, grid: vradFe,    yr: [0, 1.015e-3], tv: [0, 4e-4, 8e-4],       tt: ['0e+00', '4e-04', '8e-04'] },
  { flux: feD28,  unit: 1e-4, grid: vradFe,    yr: [0, 1.935e-3], tv: [0, 8e-4, 1.6e-3],     tt: ['0e+00', '8e-04', '2e-03'] },
  { flux: feD42,  unit: 1e-4, grid: vradFe,    yr: [0, 7.2e-4],   tv: [0, 2.5e-4, 5e-4],     tt: ['0e+00', '3e-04', '5e-04'] },
  { flux: feD47,  unit: 1e-4, grid: vradNoisy, yr: [0, 5.5e-4],   tv: [0, 2e-4, 4e-4],       tt: ['0e+00', '2e-04', '4e-04'] },
  { flux: feD50,  unit: 1e-4, grid: vradNoisy, yr: [0, 4.38e-4],  tv: [0, 1.5e-4, 3e-4],     tt: ['0e+00', '2e-04', '3e-04'] },
  { flux: feD55,  unit: 1e-5, grid: vradNoisy, yr: [0, 6.3e-5],   tv: [0, 2.5e-5, 5e-5],     tt: ['0e+00', '3e-05', '5e-05'] },
  { flux: feD61,  unit: 1e-5, grid: vradNoisy, yr: [0, 7.55e-5],  tv: [0, 2.5e-5, 5e-5, 7.5e-5], tt: ['0e+00', '3e-05', '5e-05', '8e-05'] },
  { flux: feD72,  unit: 1e-6, grid: vradNoisy, yr: [0, 2.61e-5],  tv: [0, 1e-5, 2e-5],       tt: ['0e+00', '1e-05', '2e-05'] },
  { flux: feD121, unit: 1e-5, grid: vradFe,    yr: [0, 5.26e-5],  tv: [0, 2e-5, 4e-5],       tt: ['0e+00', '2e-05', '4e-05'] }
];

// page geometry (px)
const W = 1200, H = 1485;
const mL = 71, mR = 23, mT = 57, mB = 44;
const plotW = W - mL - mR, plotH = H - mT - mB;
const pitch = 87, panelH = 79.3;
const colDomains = [[0, (550 - mL) / plotW], [(699 - mL) / plotW, 1]];
const colRightPx = [550, 1177];
const px2x = px => (px - mL) / plotW;
const px2y = py => 1 - (py - mT) / plotH;

const font = 'DejaVu Sans, Arial, sans-serif';
const traces = [];
const layout = {
  width: W, height: H,
  margin: { l: mL, r: mR, t: mT, b: mB },
  paper_bgcolor: '#fff', plot_bgcolor: '#fff',
  showlegend: false,
  font: { family: font, size: 13.5, color: '#000' },
  annotations: []
};

[tiPanels, fePanels].forEach((panels, col) => {
  panels.forEach((p, i) => {
    const k = col * 16 + i + 1;
    const sfx = k === 1 ? '' : String(k);
    const top = 1 - (i * pitch) / plotH;
    const bottom = Math.max(0, top - panelH / plotH);

    traces.push({
      type: 'scatter', mode: 'lines',
      x: p.grid.slice(0, p.flux.length),
      y: p.flux.map(v => v * p.unit),
      xaxis: 'x' + sfx, yaxis: 'y' + sfx,
      line: { color: '#000', width: 1.6 },
      hoverinfo: 'skip'
    });

    layout['xaxis' + sfx] = {
      domain: colDomains[col], anchor: 'y' + sfx,
      range: [-3000, 3000], tick0: 0, dtick: 1000, exponentformat: 'none',
      ticks: 'inside', ticklen: 7, tickwidth: 1, tickcolor: '#000',
      minor: { ticks: 'inside', dtick: 200, ticklen: 4, tickwidth: 1, tickcolor: '#000' },
      showline: true, linecolor: '#000', linewidth: 1.5, mirror: 'allticks',
      showgrid: false, zeroline: false,
      showticklabels: i === 15, ticklabelstandoff: 4,
      tickfont: { family: font, size: 13.5 }
    };
    layout['yaxis' + sfx] = {
      domain: [bottom, top], anchor: 'x' + sfx,
      range: p.yr, tickmode: 'array', tickvals: p.tv, ticktext: p.tt,
      ticks: 'inside', ticklen: 7, tickwidth: 1, tickcolor: '#000',
      showline: true, linecolor: '#000', linewidth: 1.5, mirror: 'allticks',
      showgrid: false, zeroline: false, ticklabelstandoff: 5,
      tickfont: { family: font, size: 13.5 }
    };

    // day label at the right of each panel
    layout.annotations.push({
      xref: 'paper', yref: 'paper',
      x: px2x(colRightPx[col] + 13), y: (top + bottom) / 2,
      text: '[' + daysAfter[i] + ']', textangle: -90, showarrow: false,
      xanchor: 'center', yanchor: 'middle', font: { family: font, size: 13.5 }
    });
  });
});

const lam = '<span style="font-family:DejaVu Serif">λ</span>';
const ang = '<span style="font-family:DejaVu Serif">Å</span>';
const headers = [
  { px: 115, py: 10, text: 'V339 Del - TIGRE/HEROS' },
  { px: 115, py: 29, text: 'Species: Ti II ' + lam + '5129.2 ' + ang },
  { px: 472, py: 19, text: '[days after' },
  { px: 472, py: 36, text: 'discovery]' },
  { px: 742, py: 10, text: 'V339 Del - TIGRE/HEROS' },
  { px: 742, py: 29, text: 'Species: [Fe VII] ' + lam + '5158.9 ' + ang },
  { px: 1100, py: 19, text: '[days after' },
  { px: 1100, py: 36, text: 'discovery]' }
];
headers.forEach(h => layout.annotations.push({
  xref: 'paper', yref: 'paper', x: px2x(h.px), y: px2y(h.py),
  xanchor: 'left', yanchor: 'middle', showarrow: false,
  text: h.text, font: { family: font, size: 15 }
}));

[312, 938].forEach(px => layout.annotations.push({
  xref: 'paper', yref: 'paper', x: px2x(px), y: px2y(1474),
  xanchor: 'center', yanchor: 'middle', showarrow: false,
  text: 'vrad (km/s)', font: { family: font, size: 14 }
}));
[9, 634].forEach(px => layout.annotations.push({
  xref: 'paper', yref: 'paper', x: px2x(px), y: px2y(785),
  xanchor: 'center', yanchor: 'middle', showarrow: false, textangle: -90,
  text: 'normalized flux [arb.unit]', font: { family: font, size: 15 }
}));

Plotly.newPlot('chart', traces, layout, { staticPlot: true });
</script>
</body>
</html>
